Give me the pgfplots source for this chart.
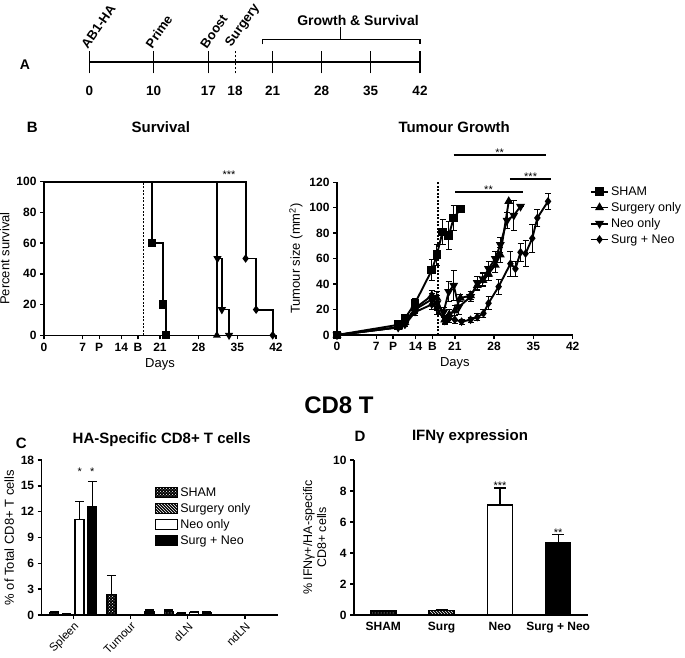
\documentclass[border=0pt]{standalone}
\usepackage{pgfplots}
\pgfplotsset{compat=1.18}
\usepackage{fontspec}
\setmainfont{Liberation Sans}
\usetikzlibrary{patterns}
\newcommand{\fs}[2]{\fontsize{#1}{#2}\selectfont}
\pgfplotsset{prism/.style={scale only axis, axis lines=left, axis line style={-, line width=1.4pt},
  tick style={line width=1.4pt, black}, tick align=outside, major tick length=4pt,
  ticklabel style={font=\bfseries\fs{12}{14}}, /pgf/number format/assume math mode=true, clip=false,
  label style={font=\fs{13}{15}}}}
\begin{document}
\begin{tikzpicture}[x=1pt,y=1pt]
\useasboundingbox (0,0) rectangle (685,658);

% ---------- Panel A (schematic timeline, positions in px from day 0) ----------
\begin{axis}[scale only axis, at={(89.3pt,596pt)}, anchor=south west, width=330.7pt, height=10pt,
 xmin=0, xmax=330.7, ymin=0, ymax=10, clip=false,
 axis x line=bottom, axis y line=none, axis line style={-, line width=1.5pt},
 xtick={0,64.4,119,183.4,232.4,281.4,330.7}, xticklabels={0,10,17,21,28,35,42},
 tick align=center, major tick length=22.6pt,
 tick style={line width=1.4pt, black},
 xticklabel style={font=\bfseries\fs{13.5}{16}, yshift=-9pt},
 extra x ticks={145.7}, extra x tick labels={18},
 extra x tick style={major tick length=22.6pt, tick style={line width=1pt, dash pattern=on 2.5pt off 1.5pt}},
 /pgf/number format/assume math mode=true]
\addplot[draw=none] coordinates {(0,0) (330.7,0)};
\node[rotate=55, anchor=south west, inner sep=0.5pt, xshift=-2pt, font=\bfseries\fs{13}{15}] at (axis cs:0,13.5) {AB1-HA};
\node[rotate=55, anchor=south west, inner sep=0.5pt, xshift=-2pt, font=\bfseries\fs{13}{15}] at (axis cs:64.4,13.5) {Prime};
\node[rotate=55, anchor=south west, inner sep=0.5pt, xshift=-2pt, font=\bfseries\fs{13}{15}] at (axis cs:119,13.5) {Boost};
\node[rotate=55, anchor=south west, inner sep=0.5pt, xshift=-2pt, font=\bfseries\fs{13}{15}] at (axis cs:145.7,13.5) {Surgery};
\draw[line width=1.4pt] (axis cs:173,17.7) -- (axis cs:173,22.7) -- (axis cs:330.7,22.7) -- (axis cs:330.7,17.7);
\draw[line width=1.4pt] (axis cs:251.4,22.7) -- (axis cs:251.4,35.3);
\node[font=\bfseries\fs{14}{16}] at (axis cs:268.7,41.3) {Growth \& Survival};
\end{axis}
\node[font=\bfseries\fs{14}{16}] at (25,593) {A};

% ---------- Panel B: Survival ----------
\begin{axis}[prism, at={(44pt,322.7pt)}, anchor=south west, width=232pt, height=153.6pt,
 xmin=0, xmax=42, ymin=0, ymax=100,
 xtick={0,7,10,14,17,21,28,35,42}, xticklabels={0,7,P,14,B,21,28,35,42},
 ytick={0,20,...,100},
 xlabel={Days}, ylabel={Percent survival}]
\addplot[black, line width=1.6pt, dash pattern=on 2pt off 1.5pt] coordinates {(18,0) (18,100)};
\addplot[const plot, black, line width=1.8pt, mark=square*, mark size=3.3pt, mark indices={2,3,4}] coordinates {(0,100) (19.5,60) (21.5,20) (22.1,0)};
\addplot[const plot, black, line width=1.3pt, mark=triangle*, mark size=3.2pt, mark indices={2}] coordinates {(0,100) (31.3,0)};
\addplot[const plot, black, line width=1.6pt, mark=triangle*, mark options={rotate=180}, mark size=3.2pt, mark indices={2,3,4}] coordinates {(0,100) (31.4,50) (32.2,16.7) (33.5,0)};
\addplot[const plot, black, line width=1.8pt, mark=diamond*, mark size=2.8pt, mark indices={2,3,4}] coordinates {(0,100) (36.5,50) (38.4,16.7) (41.4,0)};
\node[font=\fs{11}{12}] at (axis cs:33.5,104.5) {***};
\end{axis}
\node[font=\bfseries\fs{15}{17}] at (32.3,530.7) {B};
\node[font=\bfseries\fs{15}{17}] at (160.8,530.7) {Survival};

% ---------- Panel B: Tumour growth ----------
\begin{axis}[prism, at={(337pt,323pt)}, anchor=south west, width=235.7pt, height=152.7pt,
 xmin=0, xmax=42, ymin=0, ymax=120,
 xtick={0,7,10,14,17,21,28,35,42}, xticklabels={0,7,P,14,B,21,28,35,42},
 ytick={0,20,...,120},
 xlabel={Days}, ylabel={Tumour size (mm\textsuperscript{2})},
 legend style={draw=none, fill=none, at={(1.06,1.0)}, anchor=north west, font=\fs{12.5}{14}, row sep=1.5pt},
 legend cell align=left,
 error bars/y dir=both, error bars/y explicit,
 error bars/error bar style={line width=1pt, black},
 error bars/error mark options={rotate=90, mark size=3pt, line width=1pt, black}]
\addplot[black, line width=1.6pt, dash pattern=on 2pt off 1.5pt, forget plot] coordinates {(18,0) (18,120)};
\addplot[black, line width=1.9pt, mark=square*, mark size=3.4pt] coordinates {
 (0,0) +- (0,0) (10.9,8) +- (0,1) (12.1,13) +- (0,2) (13.9,25) +- (0,4) (16.9,51) +- (0,8)
 (17.8,63) +- (0,8) (18.8,81) +- (0,10) (19.9,78) +- (0,11) (20.8,92) +- (0,10) (22,99) +- (0,0)};
\addlegendentry{SHAM}
\addplot[black, line width=1.9pt, mark=triangle*, mark size=3.3pt] coordinates {
 (0,0) +- (0,0) (10.9,6) +- (0,1) (12.1,10) +- (0,2) (13.9,21) +- (0,3) (16.9,31) +- (0,4)
 (17.8,29) +- (0,5) (19.2,12) +- (0,3) (20,16) +- (0,4) (21,19) +- (0,4) (22,29) +- (0,3)
 (23.8,31) +- (0,3) (25,39) +- (0,4) (26,43) +- (0,5) (27,48) +- (0,5) (28.2,55) +- (0,6)
 (29.1,63) +- (0,6) (30.6,105) +- (0,0)};
\addlegendentry{Surgery only}
\addplot[black, line width=1.9pt, mark=triangle*, mark options={rotate=180}, mark size=3.3pt] coordinates {
 (0,0) +- (0,0) (10.9,6) +- (0,1) (12.1,9) +- (0,1) (13.9,20) +- (0,3) (16.9,28) +- (0,5)
 (17.8,25) +- (0,6) (19,18) +- (0,4) (19.9,34) +- (0,8) (20.8,39) +- (0,12) (21.7,22) +- (0,6)
 (23.8,30) +- (0,4) (25,41) +- (0,5) (26,44) +- (0,5) (27,52) +- (0,6) (28.2,60) +- (0,6)
 (29.1,71) +- (0,6) (30.3,90) +- (0,6) (31.5,94) +- (0,12) (32.7,101) +- (0,0)};
\addlegendentry{Neo only}
\addplot[black, line width=1.9pt, mark=diamond*, mark size=2.8pt] coordinates {
 (0,0) +- (0,0) (10.9,6) +- (0,1) (12.1,8) +- (0,1) (13.9,18) +- (0,3) (16.9,24) +- (0,4)
 (17.8,21) +- (0,5) (19.2,11) +- (0,3) (20,13) +- (0,3) (21,12) +- (0,3) (22.2,10.5) +- (0,2)
 (23.8,12) +- (0,2) (25,14) +- (0,3) (26.1,17) +- (0,3) (27,25) +- (0,5) (28.8,38) +- (0,6)
 (30.9,56) +- (0,10) (31.8,52) +- (0,6) (32.7,65) +- (0,7) (33.6,64) +- (0,10) (34.8,76) +- (0,11)
 (35.7,92) +- (0,7) (37.6,105) +- (0,6)};
\addlegendentry{Surg + Neo}
\draw[line width=2pt] (axis cs:20.8,141.5) -- (axis cs:37.3,141.5);
\node[font=\fs{11}{12}] at (axis cs:29,143.5) {**};
\draw[line width=2pt] (axis cs:30.8,122.6) -- (axis cs:38.2,122.6);
\node[font=\fs{11}{12}] at (axis cs:34.5,124.5) {***};
\draw[line width=2pt] (axis cs:21.1,112.2) -- (axis cs:33.1,112.2);
\node[font=\fs{11}{12}] at (axis cs:27,114) {**};
\end{axis}
\node[font=\bfseries\fs{15}{17}] at (454.2,531) {Tumour Growth};

\node[font=\bfseries\fs{24}{26}] at (339,253) {CD8 T};

% ---------- Panel C ----------
\begin{axis}[prism, at={(41.7pt,43pt)}, anchor=south west, width=236.3pt, height=155pt,
 xmin=-0.553, xmax=3.58, ymin=0, ymax=18, ytick={0,3,...,18},
 xtick={0,1,2,3}, xticklabels={Spleen,Tumour,dLN,ndLN},
 xticklabel style={rotate=45, anchor=north east, inner sep=1.5pt, font=\fs{11.5}{13}},
 ybar=3.7pt, bar width=9pt,
 ylabel={\% of Total CD8+ T cells},
 error bars/y dir=plus, error bars/y explicit,
 error bars/error bar style={line width=1.4pt, black, solid},
 error bars/error mark options={rotate=90, mark size=4.5pt, line width=1.4pt, black},
 legend style={draw=none, fill=none, at={(0.465,0.85)}, anchor=north west, font=\fs{12.5}{14}, row sep=1.5pt},
 legend cell align=left,
 legend image code/.code={\draw[#1] (0pt,-5pt) rectangle (22pt,5pt);}]
\addplot[draw=black, line width=1.2pt, fill=black, postaction={pattern=crosshatch dots, pattern color=white}] coordinates {
 (0,0.3) +- (0,0.1) (1,2.4) +- (0,2.2) (2,0.4) +- (0,0.2) (3,0.05) +- (0,0)};
\addlegendentry{SHAM}
\addplot[draw=black, line width=1.2pt, fill=black, postaction={pattern=north west lines, pattern color=white}] coordinates {
 (0,0.1) +- (0,0.05) (1,0) +- (0,0) (2,0.2) +- (0,0.05) (3,0) +- (0,0)};
\addlegendentry{Surgery only}
\addplot[draw=black, line width=1.5pt, fill=white] coordinates {
 (0,11.1) +- (0,2.1) (1,0) +- (0,0) (2,0.3) +- (0,0.05) (3,0) +- (0,0)};
\addlegendentry{Neo only}
\addplot[draw=black, line width=1.2pt, fill=black] coordinates {
 (0,12.6) +- (0,2.9) (1,0.4) +- (0,0.2) (2,0.3) +- (0,0.05) (3,0) +- (0,0)};
\addlegendentry{Surg + Neo}
\node[font=\fs{11}{12}] at (axis cs:0,16.6) [xshift=6.35pt] {*};
\node[font=\fs{11}{12}] at (axis cs:0,16.6) [xshift=19pt] {*};
\end{axis}
\node[font=\bfseries\fs{15}{17}] at (21.3,215) {C};
\node[font=\bfseries\fs{15}{17}] at (161.7,218) {HA-Specific CD8+ T cells};

% ---------- Panel D ----------
\begin{axis}[prism, at={(354pt,43pt)}, anchor=south west, width=234.3pt, height=155pt,
 xmin=-0.503, xmax=3.516, ymin=0, ymax=10, ytick={0,2,...,10},
 xtick={0,1,2,3}, xticklabels={SHAM,Surg,Neo,Surg + Neo},
 xticklabel style={font=\bfseries\fs{12}{14}}, x tick style={draw=none},
 ybar, bar width=25pt, bar shift=0pt,
 ylabel={\% IFNγ+/HA-specific\\CD8+ cells}, ylabel style={align=center, font=\fs{12.5}{14}},
 error bars/y dir=plus, error bars/y explicit,
 error bars/error bar style={line width=1.4pt, black, solid},
 error bars/error mark options={rotate=90, mark size=6pt, line width=1.4pt, black}]
\addplot[draw=black, line width=1.4pt, fill=black, postaction={pattern=crosshatch dots, pattern color=white}] coordinates {(0,0.25) +- (0,0.05)};
\addplot[draw=black, line width=1.4pt, fill=black, postaction={pattern=north west lines, pattern color=white}] coordinates {(1,0.28) +- (0,0.03)};
\addplot[draw=black, line width=1.7pt, fill=white] coordinates {(2,7.1) +- (0,1.1)};
\addplot[draw=black, line width=1.4pt, fill=black] coordinates {(3,4.65) +- (0,0.55)};
\node[font=\fs{11}{12}] at (axis cs:2,8.35) {***};
\node[font=\fs{11}{12}] at (axis cs:3,5.3) {**};
\end{axis}
\node[font=\bfseries\fs{15}{17}] at (360,221.3) {D};
\node[font=\bfseries\fs{15}{17}] at (470,221.3) {IFNγ expression};
\end{tikzpicture}
\end{document}
